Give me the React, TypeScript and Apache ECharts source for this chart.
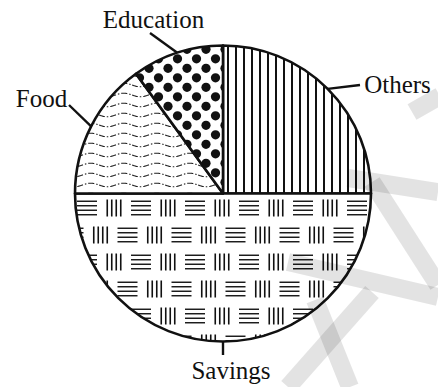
import React, { useEffect, useRef } from 'react';
import * as echarts from 'echarts';

const categories = ['Others', 'Savings', 'Food', 'Education'];
const values = [25, 50, 15, 10];

const W = 438;
const H = 387;
const CENTER = [223, 193.5];
const RADIUS = 148;

// label placement (centre of text) and leader-line end, per category
const labelPos: Record<string, number[]> = {
  Others: [397.5, 84],
  Savings: [231, 370.5],
  Food: [41.5, 98],
  Education: [153.5, 19],
};
const leaderEnd: Record<string, number[]> = {
  Others: [360, 85],
  Savings: [NaN, 355],
  Food: [69, 105],
  Education: [150, 33],
};

function tile(w: number, h: number, draw: (c: CanvasRenderingContext2D, wrap: (f: (dx: number, dy: number) => void) => void) => void) {
  const cv = document.createElement('canvas');
  cv.width = w;
  cv.height = h;
  const ctx = cv.getContext('2d')!;
  ctx.fillStyle = '#ffffff';
  ctx.fillRect(0, 0, w, h);
  const wrap = (f: (dx: number, dy: number) => void) => {
    for (const dx of [-w, 0, w]) for (const dy of [-h, 0, h]) f(dx, dy);
  };
  draw(ctx, wrap);
  return cv;
}

function patterns() {
  const vert = tile(8, 8, (c) => {
    c.fillStyle = '#111';
    c.fillRect(3, 0, 2, 8);
  });
  const dots = tile(19, 19, (c, wrap) => {
    c.fillStyle = '#111';
    [[16, 11.3], [6.5, 1.8]].forEach(([x, y]) => {
      wrap((dx, dy) => {
        c.beginPath();
        c.arc(x + dx, y + dy, 4.6, 0, Math.PI * 2);
        c.fill();
      });
    });
  });
  const waves = tile(33, 10, (c) => {
    c.strokeStyle = '#222';
    c.lineWidth = 1.1;
    c.setLineDash([6, 2, 1.5, 2]);
    c.beginPath();
    for (let x = 0; x <= 33; x += 0.5) {
      const y = 5 + 1.8 * Math.sin((2 * Math.PI * x) / 33);
      if (x === 0) c.moveTo(x, y);
      else c.lineTo(x, y);
    }
    c.stroke();
  });
  const basket = tile(54, 54, (c, wrap) => {
    c.strokeStyle = '#111';
    const hBlock = (cx: number, cy: number) => {
      c.lineWidth = 1.4;
      wrap((dx, dy) => {
        [-6.75, -2.25, 2.25, 6.75].forEach((d) => {
          c.beginPath();
          c.moveTo(cx + dx - 10, cy + dy + d);
          c.lineTo(cx + dx + 10, cy + dy + d);
          c.stroke();
        });
      });
    };
    const vBlock = (cx: number, cy: number) => {
      c.lineWidth = 1.6;
      wrap((dx, dy) => {
        [-6.75, -2.25, 2.25, 6.75].forEach((d) => {
          c.beginPath();
          c.moveTo(cx + dx + d, cy + dy - 8.5);
          c.lineTo(cx + dx + d, cy + dy + 8.5);
          c.stroke();
        });
      });
    };
    hBlock(33, 46);
    vBlock(6, 46);
    hBlock(19.5, 19);
    vBlock(46.5, 19);
  });
  const pat = (img: HTMLCanvasElement) => ({
    image: img,
    repeat: 'repeat',
    imageWidth: img.width,
    imageHeight: img.height,
  });
  return {
    Others: pat(vert),
    Savings: pat(basket),
    Food: pat(waves),
    Education: pat(dots),
  } as Record<string, any>;
}

// faint watermark strokes
const watermark = [
  [348, 178, 438, 192],
  [372, 182, 438, 285],
  [288, 262, 438, 297],
  [372, 292, 288, 387],
  [315, 300, 350, 387],
  [412, 112, 440, 96],
];

export default function App() {
  const ref = useRef<HTMLDivElement>(null);
  useEffect(() => {
    document.body.style.margin = '0';
    const chart = echarts.init(ref.current!, null, { renderer: 'svg' });
    const pats = patterns();
    const total = values.reduce((a, b) => a + b, 0);
    const starts: number[] = [];
    let acc = 0;
    values.forEach((v) => {
      starts.push(acc);
      acc += v;
    });
    const edgePoint = (i: number) => {
      const midFrac = (starts[i] + values[i] / 2) / total;
      const ang = ((90 - 360 * midFrac) * Math.PI) / 180;
      return [CENTER[0] + RADIUS * Math.cos(ang), CENTER[1] - RADIUS * Math.sin(ang)];
    };
    const lineEnd = (i: number) => {
      const e = leaderEnd[categories[i]];
      const s = edgePoint(i);
      return [isNaN(e[0]) ? s[0] : e[0], e[1]];
    };

    chart.setOption({
      animation: false,
      backgroundColor: '#ffffff',
      graphic: [
        ...watermark.map(([x1, y1, x2, y2]) => ({
          type: 'line',
          z: 100,
          silent: true,
          shape: { x1, y1, x2, y2 },
          style: { stroke: 'rgba(0,0,0,0.11)', lineWidth: 18 },
        })),
        // leader lines from slice edge towards its label
        ...categories.map((_, i) => {
          const s = edgePoint(i);
          const e = lineEnd(i);
          return {
            type: 'line',
            z: 50,
            silent: true,
            shape: { x1: s[0], y1: s[1], x2: e[0], y2: e[1] },
            style: { stroke: '#111', lineWidth: 2.4 },
          };
        }),
        // category labels
        ...categories.map((name) => ({
          type: 'text',
          z: 50,
          silent: true,
          x: labelPos[name][0],
          y: labelPos[name][1],
          style: {
            text: name,
            fontFamily: 'Liberation Serif',
            fontSize: 25,
            fill: '#111',
            align: 'center',
            verticalAlign: 'middle',
          },
        })),
      ],
      series: [
        {
          type: 'pie',
          center: CENTER,
          radius: RADIUS,
          startAngle: 90,
          clockwise: true,
          avoidLabelOverlap: false,
          silent: true,
          itemStyle: { borderColor: '#111', borderWidth: 2.6 },
          label: { show: false },
          labelLine: { show: false },
          data: categories.map((name, i) => ({
            name,
            value: values[i],
            itemStyle: { color: pats[name] },
          })),
        },
      ],
    });
    return () => chart.dispose();
  }, []);
  return <div ref={ref} style={{ position: 'absolute', left: 0, top: 0, width: W, height: H }} />;
}
